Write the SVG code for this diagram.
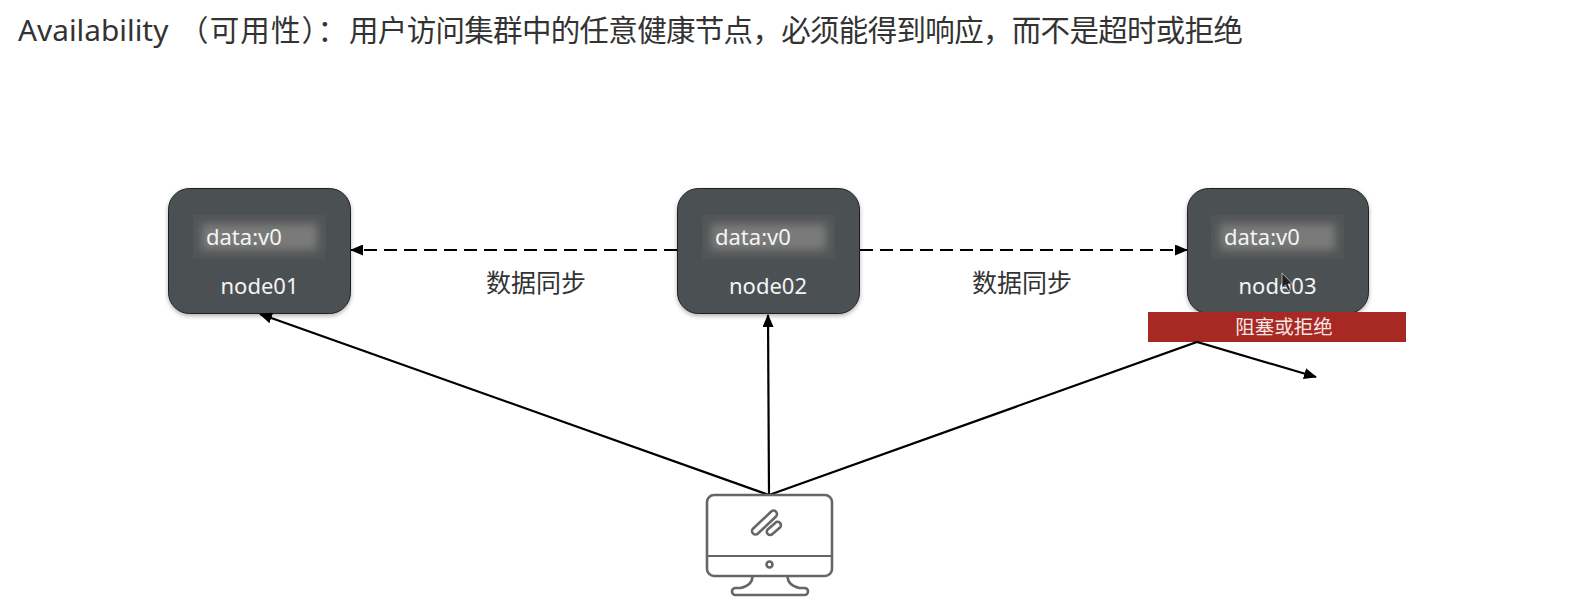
<svg xmlns="http://www.w3.org/2000/svg" width="1574" height="607" viewBox="0 0 1574 607">
<style>
text{font-family:"Noto Sans","Noto Sans CJK SC",sans-serif}
.title{font-size:29.500px;fill:#333}
.card{fill:#4b5153;stroke:#1f2324;stroke-width:1;filter:url(#sh)}
.well{fill:#525556}
.glow{fill:#7a7a7a;filter:url(#bl)}
.t{font-size:22px;fill:#f4f4f4}
.sync{font-size:25px;fill:#333;font-family:"Noto Sans CJK SC",sans-serif}
.ln{fill:none;stroke:#000;stroke-width:2.2}
.dash{stroke-dasharray:13 7}
.mon{fill:none;stroke:#666;stroke-width:2.6;stroke-linejoin:round}
</style>
<defs>
<filter id="sh" x="-10%" y="-10%" width="120%" height="125%"><feDropShadow dx="0" dy="2" stdDeviation="2" flood-color="#000" flood-opacity=".3"/></filter>
<filter id="bl" x="-10%" y="-30%" width="120%" height="160%"><feGaussianBlur stdDeviation="4"/></filter>
<marker id="ah" markerWidth="13" markerHeight="11" refX="12" refY="5.500" orient="auto" markerUnits="userSpaceOnUse"><path d="M0 0L13 5.500L0 11Z" fill="#000"/></marker>
</defs>
<rect width="1574" height="607" fill="#fff"/>
<text class="title" x="18" y="41" style="font-size:29.800px">Availability</text>
<text class="title" x="179" y="41" textLength="168" style="font-feature-settings:'chws' 0">（可用性）：</text>
<text class="title" x="349" y="41" textLength="894">用户访问集群中的任意健康节点，必须能得到响应，而不是超时或拒绝</text>

<g id="node01">
<rect class="card" x="168.500" y="188.500" width="182" height="125" rx="21"/>
<rect class="well" x="193" y="215" width="133" height="44"/>
<rect class="glow" x="202" y="224" width="115" height="26"/>
<text class="t" x="206" y="245">data:v0</text>
<text class="t" x="259.500" y="294" text-anchor="middle">node01</text>
</g>
<g id="node02">
<rect class="card" x="677.500" y="188.500" width="182" height="125" rx="21"/>
<rect class="well" x="702" y="215" width="133" height="44"/>
<rect class="glow" x="711" y="224" width="115" height="26"/>
<text class="t" x="715" y="245">data:v0</text>
<text class="t" x="768" y="294" text-anchor="middle">node02</text>
</g>
<g id="node03">
<rect class="card" x="1187.500" y="188.500" width="181" height="125" rx="21"/>
<rect class="well" x="1211" y="215" width="133" height="44"/>
<rect class="glow" x="1220" y="224" width="115" height="26"/>
<text class="t" x="1224" y="245">data:v0</text>
<text class="t" x="1277.500" y="294" text-anchor="middle">node03</text>
<path d="M1282 273l0 15l3.500-3l2.500 5.500l2.500-1l-2.500-5.500l4.500 0z" fill="#222" stroke="#eee" stroke-width=".6"/>
</g>
<g id="blocked">
<rect x="1148" y="312" width="258" height="30" fill="#a82823"/>
<text x="1284" y="334" font-size="19.500" fill="#f4e6e4" text-anchor="middle">阻塞或拒绝</text>
</g>

<g id="connectors">
<path class="ln dash" d="M677 250H351" marker-end="url(#ah)"/>
<path class="ln dash" d="M860 250H1187" marker-end="url(#ah)"/>
<path class="ln" d="M769 495L260 314" marker-end="url(#ah)"/>
<path class="ln" d="M769 495L768 315" marker-end="url(#ah)"/>
<path class="ln" d="M769 495L1197 342L1316 377" marker-end="url(#ah)"/>
</g>
<text class="sync" x="486" y="292">数据同步</text>
<text class="sync" x="972" y="292">数据同步</text>

<g id="client">
<rect class="mon" x="707" y="495" width="125" height="81" rx="7"/>
<path class="mon" d="M707 556H832" style="stroke-width:2"/>
<circle class="mon" cx="769.500" cy="564.500" r="3"/>
<path class="mon" d="M752.500 576c0 6-3 10-12 12h-5a3.500 3.500 0 0 0 0 7h69a3.500 3.500 0 0 0 0-7h-5c-9-2-12-6-12-12"/>
<path class="mon" d="M758 533.500l18-17a3.400 3.400 0 0 0-5-4.800l-18 17a3.400 3.400 0 0 0 5 4.800z"/>
<path class="mon" d="M772.500 534l7.500-6.500a3.300 3.300 0 0 0-4.800-4.600l-7.500 6.500a3.300 3.300 0 0 0 4.800 4.600z"/>
</g>
</svg>
